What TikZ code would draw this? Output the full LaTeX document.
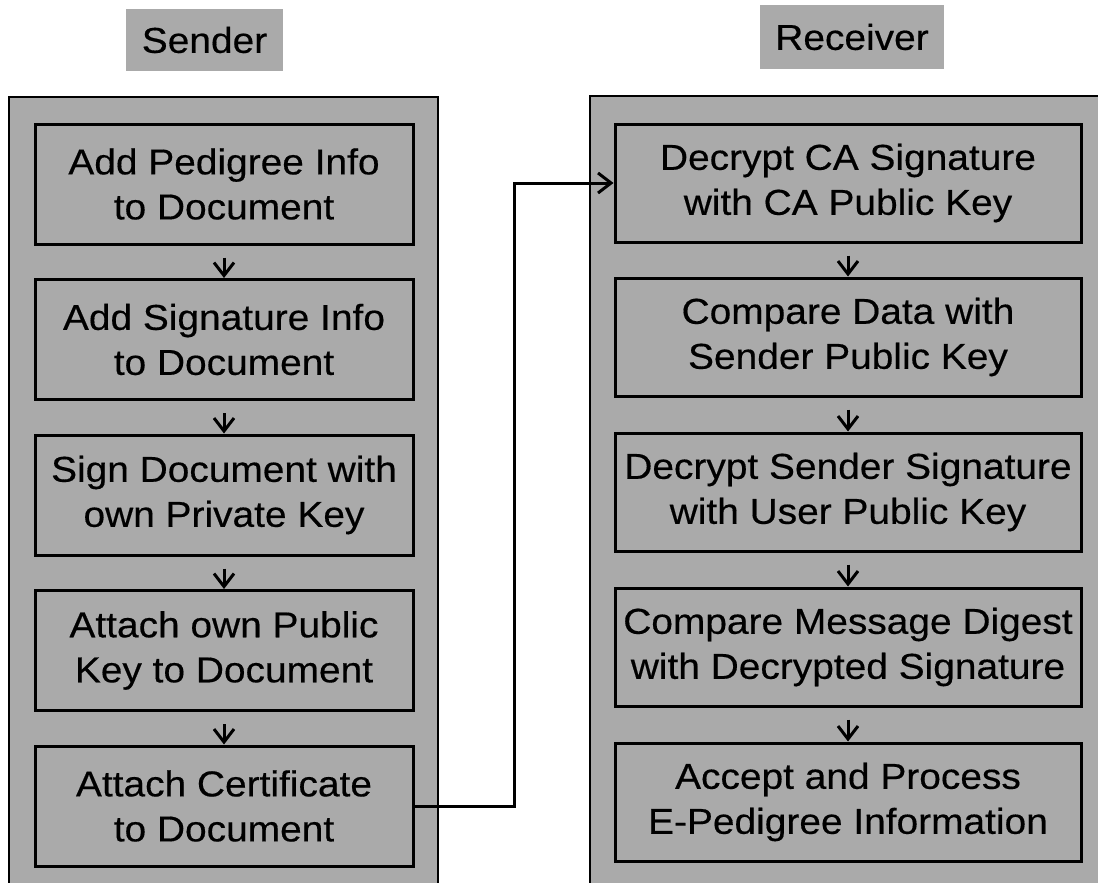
\documentclass[tikz,border=0pt]{standalone}
\usepackage{fontspec}
\setmainfont{Liberation Sans}[FakeStretch=1.08,FakeBold=0.4]
\usetikzlibrary{arrows.meta}
\definecolor{boxgray}{RGB}{170,170,170}
\tikzset{
  boxfont/.style={font=\fontsize{36}{45}\selectfont},
  lanebox/.style={fill=boxgray, draw=black, line width=2.6pt},
  titlebox/.style={fill=boxgray, draw=none, inner sep=0pt, boxfont},
  stepbox/.style={draw=black, line width=3pt, inner sep=0pt, align=center, boxfont},
  sbox/.style={stepbox, minimum width=378pt, minimum height=120pt},
  rbox/.style={stepbox, minimum width=466pt, minimum height=118pt},
  arr/.style={line width=3pt, -{Straight Barb[length=13pt,width=20pt,line width=3pt]}},
}
\begin{document}
\begin{tikzpicture}[x=1pt,y=-1pt]
\useasboundingbox (0,0) rectangle (1098,883);
\clip (0,0) rectangle (1098,883);
% title boxes
\node[titlebox, minimum width=157pt, minimum height=62pt] (sendertitle) at (204.5,40) {Sender};
\node[titlebox, minimum width=184pt, minimum height=64pt] (receivertitle) at (852,37) {Receiver};
% lanes
\draw[lanebox] (9,97) rectangle (438,910);
\draw[lanebox] (590,96) rectangle (1120,910);
% sender steps
\node[sbox] (s1) at (224,184)   {Add Pedigree Info\\to Document};
\node[sbox] (s2) at (224,339.5) {Add Signature Info\\to Document};
\node[sbox] (s3) at (224,495)   {Sign Document with\\own Private Key};
\node[sbox] (s4) at (224,650.5) {Attach own Public\\Key to Document};
\node[sbox] (s5) at (224,806)   {Attach Certificate\\to Document};
% receiver steps
\node[rbox] (r1) at (848,183) {Decrypt CA Signature\\with CA Public Key};
\node[rbox] (r2) at (848,337) {Compare Data with\\Sender Public Key};
\node[rbox] (r3) at (848,492) {Decrypt Sender Signature\\with User Public Key};
\node[rbox] (r4) at (848,647) {Compare Message Digest\\with Decrypted Signature};
\node[rbox] (r5) at (848,802) {Accept and Process\\E-Pedigree Information};
% arrows
\foreach \a/\b in {s1/s2,s2/s3,s3/s4,s4/s5,r1/r2,r2/r3,r3/r4,r4/r5}
  \draw[arr] ([yshift=-12pt]\a.south) -- (\b.north);
\coordinate (jog) at (514,500);
\draw[arr] (s5.east) -| (jog) |- (r1.west);
\end{tikzpicture}
\end{document}
